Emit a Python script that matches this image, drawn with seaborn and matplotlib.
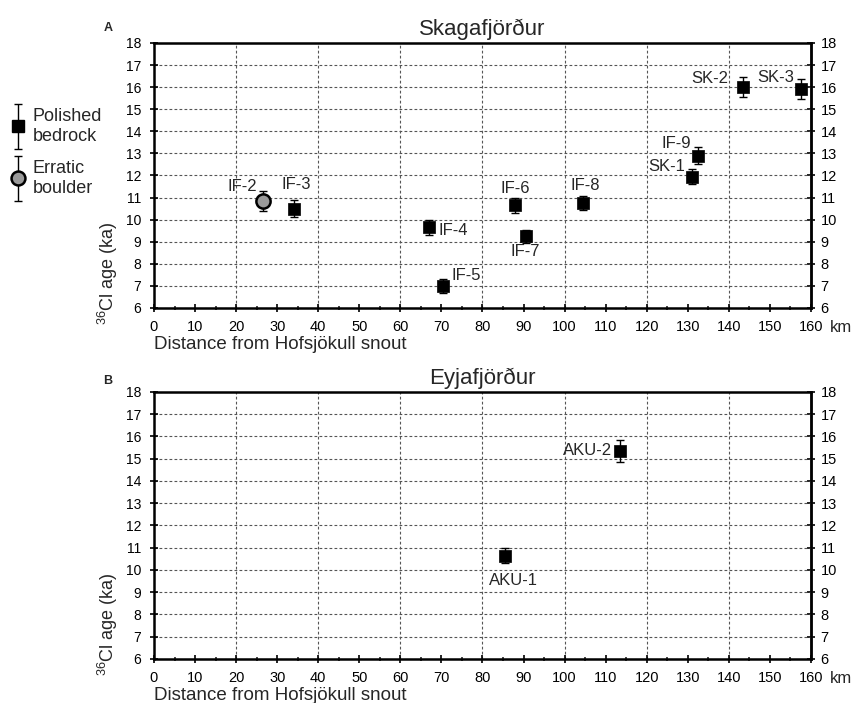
import matplotlib
matplotlib.use("Agg")
import matplotlib.pyplot as plt
from matplotlib.ticker import MultipleLocator
from matplotlib.lines import Line2D
from matplotlib.container import ErrorbarContainer
from matplotlib.legend_handler import HandlerErrorbar
import seaborn as sns
import numpy as np

# Skagafjordur, polished bedrock samples
skaga_names = ["IF-3", "IF-4", "IF-5", "IF-6", "IF-7", "IF-8", "SK-1", "IF-9", "SK-2", "SK-3"]
skaga_km = [34, 67, 70.5, 88, 90.5, 104.5, 131, 132.5, 143.5, 157.5]
skaga_age = [10.5, 9.65, 7.0, 10.65, 9.25, 10.75, 11.95, 12.9, 16.0, 15.9]
skaga_err = [0.4, 0.35, 0.3, 0.35, 0.3, 0.3, 0.35, 0.4, 0.45, 0.45]

# Skagafjordur, erratic boulder
boulder_names = ["IF-2"]
boulder_km = [26.5]
boulder_age = [10.85]
boulder_err = [0.45]

# Eyjafjordur, polished bedrock samples
eyja_names = ["AKU-1", "AKU-2"]
eyja_km = [85.5, 113.5]
eyja_age = [10.65, 15.35]
eyja_err = [0.33, 0.5]

# label offsets (pixels) relative to each point
label_offsets = {
    "IF-2": (-20, 14), "IF-3": (3, 24), "IF-4": (24, -3), "IF-5": (23, 10),
    "IF-6": (0, 17), "IF-7": (0, -15), "IF-8": (2, 18), "IF-9": (-22, 12),
    "SK-1": (-25, 10), "SK-2": (-33, 9), "SK-3": (-25, 12),
    "AKU-1": (8, -25), "AKU-2": (-32, 0),
}

sns.set_theme(style="ticks")
plt.rcParams["font.family"] = ["Liberation Sans", "DejaVu Sans"]
plt.rcParams["mathtext.default"] = "regular"

fig = plt.figure(figsize=(8.54, 7.03), dpi=100)
ax_a = fig.add_axes([0.1803, 0.5619, 0.7693, 0.3770])
ax_b = fig.add_axes([0.1803, 0.0626, 0.7693, 0.3798])


def style_axis(ax, title):
    ax.set_xlim(0, 160)
    ax.set_ylim(6, 18)
    ax.xaxis.set_major_locator(MultipleLocator(10))
    ax.xaxis.set_minor_locator(MultipleLocator(5))
    ax.yaxis.set_major_locator(MultipleLocator(1))
    ax.yaxis.grid(True, color="#555555", linestyle=(0, (2.5, 2)), linewidth=0.8)
    ax.vlines(np.arange(20, 160, 20), 6, 18, colors="#555555",
              linestyles=(0, (2.5, 2)), linewidth=0.8, zorder=0.5)
    for s in ax.spines.values():
        s.set_visible(True)
        s.set_linewidth(1.8)
        s.set_color("black")
    ax.tick_params(axis="both", which="major", direction="inout", length=6,
                   width=1.2, color="black", labelcolor="black")
    ax.tick_params(axis="x", which="minor", direction="inout", length=3, width=1.2)
    ax.tick_params(axis="x", labelsize=10.5, pad=6)
    ax.tick_params(axis="y", labelsize=10, pad=6)

    # right-hand age scale
    sec = ax.secondary_yaxis("right")
    sec.yaxis.set_major_locator(MultipleLocator(1))
    sec.spines["right"].set_linewidth(1.8)
    sec.tick_params(axis="y", direction="inout", length=6, width=1.2,
                    labelsize=10.5, pad=4, color="black", labelcolor="black")

    ax.set_title(title, fontsize=16, pad=6)
    ax.set_xlabel("Distance from Hofsjökull snout", fontsize=13.5, loc="left", labelpad=1)
    ax.set_ylabel("$^{36}$Cl age (ka)", fontsize=13)
    ax.yaxis.set_label_coords(-0.052, 0.13)
    ax.annotate("km", xy=(1, 0), xycoords="axes fraction", xytext=(19, -20),
                textcoords="offset pixels", ha="left", va="center", fontsize=12)


def draw_points(ax, km, age, err, names, marker, face, size, ew):
    eb = ax.errorbar(km, age, yerr=err, fmt="none", ecolor="black",
                     elinewidth=1, capsize=3, capthick=1, zorder=3)
    sns.scatterplot(x=km, y=age, marker=marker, s=size, color=face,
                    edgecolor="black", linewidth=ew, ax=ax, zorder=4)
    for n, x, y in zip(names, km, age):
        ax.annotate(n, (x, y), xytext=label_offsets[n], textcoords="offset pixels",
                    ha="center", va="center", fontsize=12)
    return eb


style_axis(ax_a, "Skagafjörður")
style_axis(ax_b, "Eyjafjörður")

eb_rock = draw_points(ax_a, skaga_km, skaga_age, skaga_err, skaga_names, "s", "black", 80, 0.5)
eb_boulder = draw_points(ax_a, boulder_km, boulder_age, boulder_err, boulder_names, "o", "#9a9a9a", 105, 1.8)
draw_points(ax_b, eyja_km, eyja_age, eyja_err, eyja_names, "s", "black", 80, 0.5)

fig.text(108 / 854, 1 - 28 / 703, "A", fontsize=9, fontweight="bold", ha="center", va="center")
fig.text(108 / 854, 1 - 381 / 703, "B", fontsize=9, fontweight="bold", ha="center", va="center")

rock_marker = Line2D([], [], marker="s", color="black", linestyle="none", markersize=9)
boulder_marker = Line2D([], [], marker="o", markerfacecolor="#9a9a9a", markeredgecolor="black",
                        markeredgewidth=1.8, linestyle="none", markersize=10)
fig.legend([(eb_rock, rock_marker), (eb_boulder, boulder_marker)],
           ["Polished\nbedrock", "Erratic\nboulder"],
           loc="upper left", bbox_to_anchor=(9 / 854, 1 - 108 / 703), frameon=False,
           handlelength=1.0, handletextpad=0.3, borderpad=0, borderaxespad=0,
           labelspacing=0.85, fontsize=13,
           handler_map={ErrorbarContainer: HandlerErrorbar(xerr_size=1.25)})

fig.savefig("out.png", dpi=100)
